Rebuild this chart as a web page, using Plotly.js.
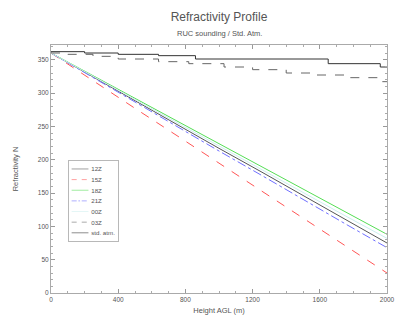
<!DOCTYPE html>
<html><head><meta charset="utf-8">
<script src="https://cdn.plot.ly/plotly-3.0.1.min.js"></script>
<style>html,body{margin:0;padding:0;background:#fff}#c{width:395px;height:320px}</style>
</head><body><div id="c"></div>
<script>
const heights = [0, 250, 500, 750, 1000, 1250, 1500, 1750, 2000];
const n12 = [360, 324, 288, 253, 217, 182, 146, 111, 75];
const n15 = [360, 318, 277, 236, 195, 154, 113, 72, 30];
const n18 = [360, 326, 292, 258, 224, 190, 156, 122, 88];
const n21 = [360, 323, 286, 250, 213, 177, 140, 104, 68];
const n00 = [360, 325, 290, 255, 221, 186, 151, 116, 82];
const h03 = [0, 100, 250, 400, 640, 820, 1030, 1200, 1400, 1580, 1760, 1950, 2000];
const n03 = [360, 358, 355, 351, 347, 344, 339, 335, 330, 327, 323, 317, 317];
const hStd = [0, 200, 400, 640, 860, 1650, 1960, 2000];
const nStd = [362, 360, 358, 356, 351, 344, 339, 339];
const names = ["12Z", "15Z", "18Z", "21Z", "00Z", "03Z", "std. atm."];
const titleText = "Refractivity Profile";
const subtitleText = "RUC sounding / Std. Atm.";

const traces = [
  {x: heights, y: n12, name: names[0], line: {color: '#555555', width: 1}},
  {x: heights, y: n15, name: names[1], line: {color: '#ff5555', width: 1, dash: 'dash'}},
  {x: heights, y: n18, name: names[2], line: {color: '#55dd55', width: 1}},
  {x: heights, y: n21, name: names[3], line: {color: '#6f6fff', width: 1, dash: 'dashdot'}},
  {x: heights, y: n00, name: names[4], line: {color: '#cceeee', width: 1}},
  {x: h03, y: n03, name: names[5], line: {color: '#666666', width: 1, dash: 'dash', shape: 'hv'}},
  {x: hStd, y: nStd, name: names[6], line: {color: '#333333', width: 1, shape: 'hv'}}
].map(t => Object.assign({type: 'scatter', mode: 'lines'}, t));

const FONT = 'Liberation Sans, Arial, sans-serif';
const ax = {
  showline: true, linecolor: '#aaa', linewidth: 1, mirror: 'ticks',
  ticks: 'inside', ticklen: 4, tickcolor: '#999', showgrid: false, zeroline: false,
  ticklabeloverflow: 'allow',
  tickfont: {size: 6.5, color: '#555', family: FONT}
};
const layout = {
  width: 395, height: 320,
  margin: {l: 51, r: 8, t: 45, b: 27},
  paper_bgcolor: '#fff', plot_bgcolor: '#fff',
  font: {family: FONT, color: '#555'},
  title: {text: titleText, font: {size: 12, color: '#555'},
          xref: 'paper', x: 0.5, xanchor: 'center', yref: 'container', y: 1 - 17 / 320, yanchor: 'middle'},
  annotations: [{text: subtitleText, xref: 'paper', yref: 'paper', x: 0.5, y: (293 - 33) / 248,
    xanchor: 'center', yanchor: 'middle', showarrow: false, font: {size: 7.5, color: '#555', family: FONT}}],
  xaxis: Object.assign({}, ax, {range: [0, 2000], dtick: 400, tick0: 0,
    minor: {ticks: 'inside', ticklen: 2, tickcolor: '#aaa', dtick: 100},
    title: {text: 'Height AGL (m)', font: {size: 7.5, color: '#555'}, standoff: 5}}),
  yaxis: Object.assign({}, ax, {range: [0, 372], dtick: 50, tick0: 0,
    minor: {ticks: 'inside', ticklen: 2, tickcolor: '#aaa', dtick: 10},
    title: {text: 'Refractivity N', font: {size: 7.5, color: '#555'}, standoff: 18}}),
  showlegend: true,
  legend: {x: 0.05, y: 0.54, xanchor: 'left', yanchor: 'top', bgcolor: '#fff',
    bordercolor: '#aaa', borderwidth: 1.5, font: {size: 11, color: '#555'},
    tracegroupgap: 0}
};
Plotly.newPlot('c', traces, layout, {displayModeBar: false, staticPlot: true}).then(gd => {
  const lg = gd.querySelector('g.legend');
  if (lg) lg.setAttribute('transform', 'translate(68,160) scale(0.56)');
});
</script></body></html>
